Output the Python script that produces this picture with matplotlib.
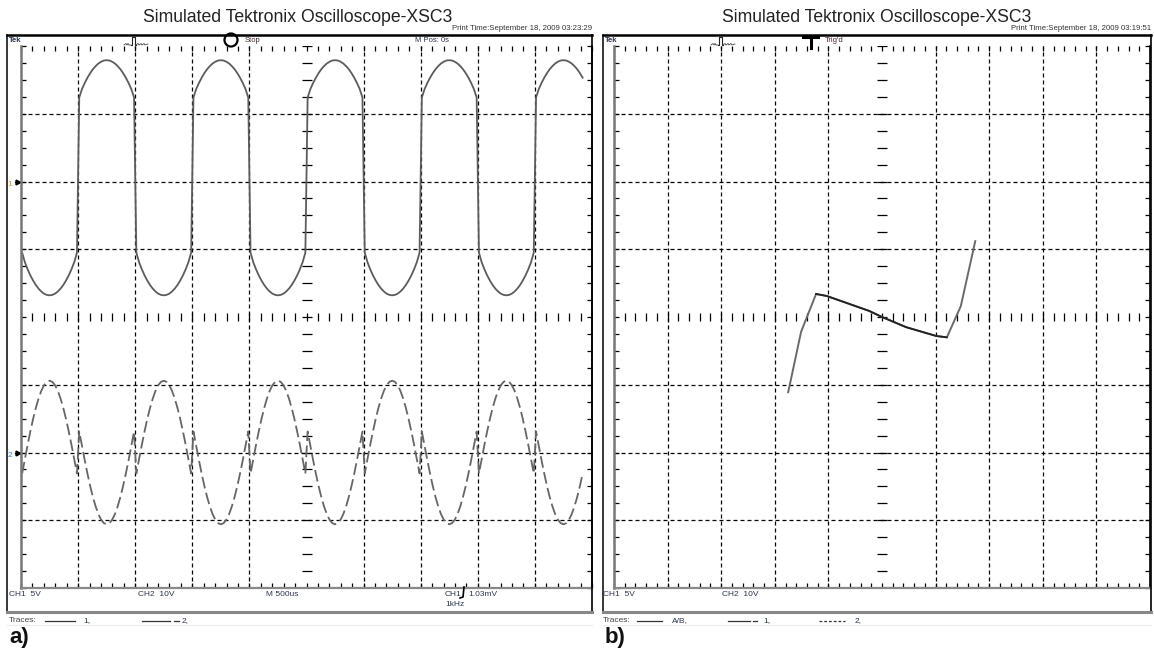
import numpy as np
import matplotlib
matplotlib.use('Agg')
import matplotlib.pyplot as plt
from matplotlib.lines import Line2D
from matplotlib.patches import Ellipse
from matplotlib.ticker import MultipleLocator

plt.rcParams['font.family'] = ['Liberation Sans', 'DejaVu Sans']

W, H = 1154, 654
GRID_TOP, GRID_BOT = 46, 588

# scope settings
TIME_DIV_MS = 0.5
CH1_VDIV = 5.0
CH2_VDIV = 10.0
CH1_OFFSET_DIV = 2.0
CH2_OFFSET_DIV = -2.0

# readings over one half period (volts), 21 samples each
HALF_SAMPLES_MS = np.linspace(0.01, 0.49, 21)
CH1_LOW_V = [-5.25, -5.96, -6.48, -6.93, -7.31, -7.64, -7.91, -8.12, -8.28, -8.37, -8.40,
             -8.37, -8.28, -8.12, -7.91, -7.64, -7.31, -6.93, -6.48, -5.96, -5.25]
CH1_HIGH_V = [6.20, 6.82, 7.27, 7.66, 8.00, 8.29, 8.52, 8.71, 8.84, 8.93, 8.95,
              8.93, 8.84, 8.71, 8.52, 8.29, 8.00, 7.66, 7.27, 6.82, 6.20]
CH2_POS_V = [-3.10, -0.96, 1.13, 3.12, 4.96, 6.59, 7.98, 9.11, 9.93, 10.43, 10.60,
             10.43, 9.93, 9.11, 7.98, 6.59, 4.96, 3.12, 1.13, -0.96, -3.10]
CH2_NEG_V = [3.10, 0.96, -1.13, -3.12, -4.96, -6.59, -7.98, -9.11, -9.93, -10.43, -10.60,
             -10.43, -9.93, -9.11, -7.98, -6.59, -4.96, -3.12, -1.13, 0.96, 3.10]
PERIODS = 5
SWEEP_END_MS = 4.92

# X-Y mode: CH2 on the horizontal, CH1 on the vertical
XY_CH2_V = [-17.5, -15.1, -12.3, -10.3, -2.4, 0.0, 4.5, 10.1, 12.1, 14.7, 17.4]
XY_CH1_V = [-5.55, -1.10, 1.70, 1.55, 0.45, 0.0, -0.75, -1.40, -1.50, 0.80, 5.60]

TITLE = 'Simulated Tektronix Oscilloscope-XSC3'
PRINT_TIMES = ['Print Time:September 18, 2009 03:23:29',
               'Print Time:September 18, 2009 03:19:51']

TXT = '#2c3550'
TRACE = '#5c5c5c'
SMALL = 6.0

fig = plt.figure(figsize=(W / 100, H / 100), dpi=100)


def fx(x):
    return x / W


def fy(y):
    return 1 - y / H


def fline(xs, ys, **kw):
    fig.add_artist(Line2D([fx(x) for x in xs], [fy(y) for y in ys],
                          transform=fig.transFigure, **kw))


def ftext(x, y, s, **kw):
    kw.setdefault('va', 'center')
    fig.text(fx(x), fy(y), s, **kw)


def frame(left, right, title_x, print_time):
    ftext(title_x, 17, TITLE, fontsize=12.7, ha='center', color='#222')
    ftext(right, 29, print_time, fontsize=5.6, ha='right', color='#333')
    fline([left, right], [35, 35], color='k', lw=1.8)
    fline([left, left], [35, 612], color='k', lw=1.1)
    fline([right, right], [35, 612], color='k', lw=1.2)
    fline([left, right], [612, 612], color='#888', lw=2.2)
    fline([left, right], [625, 625], color='#ececec', lw=0.8)
    ftext(left + 2, 40.5, 'Tek', fontsize=5.5, color=TXT, fontweight='bold')


def pulse(x0):
    # small trigger-source glyph in the header
    fline([x0, x0 + 2, x0 + 3, x0 + 4, x0 + 5, x0 + 7], [45, 43.5, 45, 43.5, 45, 45], color='#444', lw=0.6)
    fline([x0 + 7, x0 + 8, x0 + 8, x0 + 11, x0 + 11, x0 + 12],
          [45, 45, 36.5, 36.5, 45, 45], color='#222', lw=0.8)
    fline([x0 + 12, x0 + 14, x0 + 15, x0 + 17, x0 + 18, x0 + 20, x0 + 21, x0 + 24],
          [45, 43.5, 45, 43.5, 45, 43.5, 45, 44], color='#444', lw=0.6)


def scope_axes(gl, gr, x0):
    ax = fig.add_axes([fx(gl), fy(GRID_BOT), (gr - gl) / W, (GRID_BOT - GRID_TOP) / H])
    ax.set_xlim(x0, x0 + 10)
    ax.set_ylim(-4, 4)
    ax.xaxis.set_major_locator(MultipleLocator(0.2))
    ax.yaxis.set_major_locator(MultipleLocator(0.25))
    ax.tick_params(direction='in', length=3.8, width=0.9, color='k',
                   top=True, right=True, labelbottom=False, labelleft=False)
    ax.spines['top'].set_visible(False)
    ax.spines['left'].set_color('#777')
    ax.spines['left'].set_linewidth(1.8)
    ax.spines['bottom'].set_color('#888')
    ax.spines['bottom'].set_linewidth(1.6)
    ax.spines['right'].set_color('k')
    ax.spines['right'].set_linewidth(1.2)
    ax.patch.set_alpha(0)
    for k in range(1, 10):
        if k != 5:
            ax.axvline(x0 + k, color='k', lw=0.9, dashes=(3.2, 2.4))
    for k in (-3, -2, -1, 1, 2, 3):
        ax.axhline(k, color='k', lw=0.9, dashes=(3.2, 2.4))
    xs = np.arange(x0, x0 + 10.001, 0.2)
    ax.plot(xs, np.zeros_like(xs), ls='none', marker='|', ms=5.5, mew=0.9, color='k')
    ys = np.arange(-4, 4.001, 0.25)
    ax.plot(np.full_like(ys, x0 + 5), ys, ls='none', marker='_', ms=6.5, mew=0.9, color='k')
    return ax


# ---- a) Y-T display ----
frame(7, 592, 298, PRINT_TIMES[0])
pulse(124)
fig.add_artist(Ellipse((fx(231), fy(40)), width=13 / W, height=13 / H,
                       transform=fig.transFigure, fill=False, ec='k', lw=1.6))
ftext(245, 40.5, 'Stop', fontsize=5.5, color='#4a2a2a')
ftext(432, 40.5, 'M Pos: 0s', fontsize=5.5, color=TXT, ha='center')

ax_a = scope_axes(21, 592, 0)

period_t = np.concatenate([HALF_SAMPLES_MS, HALF_SAMPLES_MS + 0.5])
t = np.concatenate([period_t + k for k in range(PERIODS)])
ch1 = np.tile(CH1_LOW_V + CH1_HIGH_V, PERIODS)
ch2 = np.tile(CH2_POS_V + CH2_NEG_V, PERIODS)
keep = t <= SWEEP_END_MS

ax_a.plot(t[keep] / TIME_DIV_MS, ch1[keep] / CH1_VDIV + CH1_OFFSET_DIV, color=TRACE, lw=1.3)
ax_a.plot(t[keep] / TIME_DIV_MS, ch2[keep] / CH2_VDIV + CH2_OFFSET_DIV, color='#666',
          lw=1.3, dashes=(6.5, 2.5))

# channel ground markers
for off, lab, col in [(CH1_OFFSET_DIV, '1', '#d8922a'), (CH2_OFFSET_DIV, '2', '#3d7fd0')]:
    ax_a.plot([-0.1, -0.02], [off, off], color='k', lw=1.0, clip_on=False)
    ax_a.plot([-0.06], [off], marker='>', ms=3.5, color='k', clip_on=False)
    ax_a.text(-0.19, off - 0.05, lab, fontsize=6, color=col, ha='center', va='center')

ftext(9, 594, 'CH1  5V', fontsize=SMALL, color=TXT)
ftext(138, 594, 'CH2  10V', fontsize=SMALL, color=TXT)
ftext(298, 594, 'M 500us', fontsize=SMALL, color=TXT, ha='right')
ftext(445, 594, 'CH1', fontsize=SMALL, color=TXT)
fline([460, 463, 464], [598, 597, 587], color='k', lw=1.2)
ftext(468, 594, '1.03mV', fontsize=SMALL, color=TXT)
ftext(445, 605, '1kHz', fontsize=SMALL, color=TXT)

ftext(9, 621, 'Traces:', fontsize=SMALL, color='#444')
fline([45, 75], [621, 621], color='#333', lw=0.9)
ftext(83, 621, '1,', fontsize=SMALL, color=TXT)
fline([142, 170], [621, 621], color='#333', lw=0.9)
fline([174, 179], [621, 621], color='#333', lw=0.9)
ftext(182, 621, '2,', fontsize=SMALL, color=TXT)
ftext(9, 638, 'a)', fontsize=16, fontweight='bold', color='#111')

# ---- b) X-Y display ----
frame(603, 1151, 877, PRINT_TIMES[1])
pulse(711)
fline([803, 818], [36.5, 36.5], color='k', lw=2.2)
fline([810.5, 810.5], [36.5, 48], color='k', lw=2.2)
ftext(825, 40.5, "Trig'd", fontsize=5.5, color='#4a2a2a')

ax_b = scope_axes(614, 1150, -5)
xy_x = np.array(XY_CH2_V) / CH2_VDIV
xy_y = np.array(XY_CH1_V) / CH1_VDIV
ax_b.plot(xy_x, xy_y, color='#6a6a6a', lw=1.4)
ax_b.plot(xy_x[2:9], xy_y[2:9], color='#222', lw=1.3)

ftext(603, 594, 'CH1  5V', fontsize=SMALL, color=TXT)
ftext(722, 594, 'CH2  10V', fontsize=SMALL, color=TXT)

ftext(603, 621, 'Traces:', fontsize=SMALL, color='#444')
fline([637, 662], [621, 621], color='#333', lw=0.9)
ftext(672, 621, 'A/B,', fontsize=SMALL, color=TXT)
fline([728, 750], [621, 621], color='#333', lw=0.9)
fline([753, 757], [621, 621], color='#333', lw=0.9)
ftext(763, 621, '1,', fontsize=SMALL, color=TXT)
fline([819, 845], [621, 621], color='#333', lw=0.9, dashes=(2.2, 1.6))
ftext(855, 621, '2,', fontsize=SMALL, color=TXT)
ftext(605, 638, 'b)', fontsize=16, fontweight='bold', color='#111')

fig.savefig('out.png', dpi=100)
